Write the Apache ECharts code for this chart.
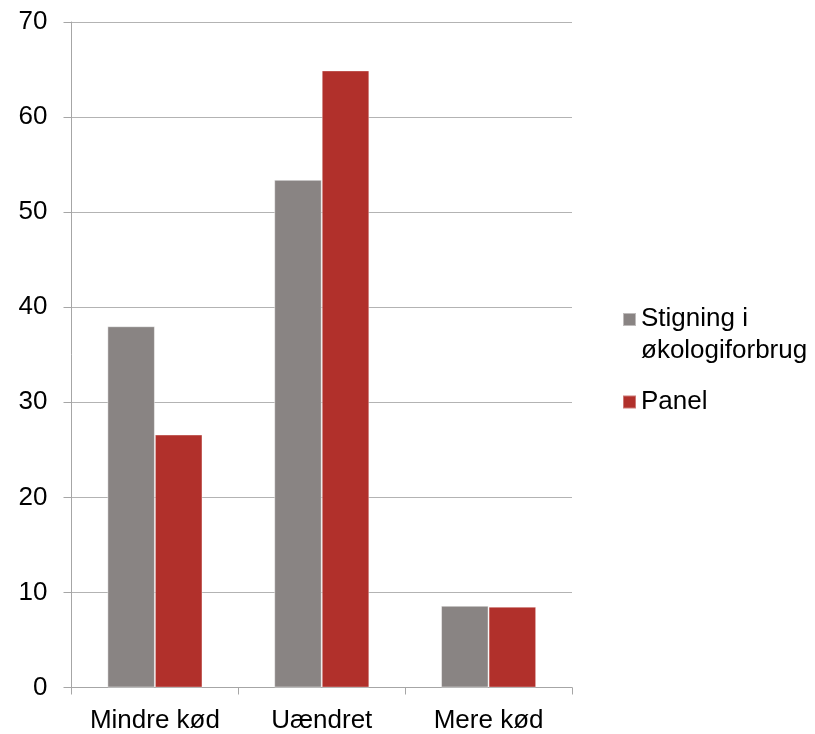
<!DOCTYPE html>
<html>
<head>
<meta charset="utf-8">
<script src="https://cdn.jsdelivr.net/npm/echarts@6/dist/echarts.min.js"></script>
<style>
  html, body { margin: 0; padding: 0; background: #fff; }
  #chart { width: 815px; height: 734px; }
</style>
</head>
<body>
<div id="chart"></div>
<script>
// Kødforbrug: andel (%) fordelt på ændring i forbrug
const categories = ['Mindre kød', 'Uændret', 'Mere kød'];
const stigningValues = [38.0, 53.4, 8.6];
const panelValues = [26.6, 64.9, 8.5];
const seriesNames = ['Stigning i\nøkologiforbrug', 'Panel'];
const yTicks = { min: 0, max: 70, interval: 10 };

const FONT = '"Liberation Sans", Arial, sans-serif';
const axisGray = '#a6a6a6';

// Legend swatches: a 13px square inside a 13x44 box, so the square can sit
// level with the first text line of a two-line entry.
const ICON_TOP = 'path://M0,0h13v13h-13z M0,44';
const ICON_MID = 'path://M0,0 M0,15.5h13v13h-13z M0,44';

const chart = echarts.init(document.getElementById('chart'), null, { renderer: 'canvas' });

chart.setOption({
  animation: false,
  backgroundColor: '#ffffff',
  textStyle: { fontFamily: FONT },
  grid: { left: 71.5, right: 243, top: 22, bottom: 46.5, containLabel: false },
  legend: {
    orient: 'vertical',
    left: 617,
    top: 298,
    itemWidth: 13,
    itemHeight: 44,
    itemGap: 12,
    textStyle: { fontFamily: FONT, fontSize: 26, color: '#000', lineHeight: 32 },
    data: [
      { name: seriesNames[0], icon: ICON_TOP },
      { name: seriesNames[1], icon: ICON_MID }
    ]
  },
  xAxis: {
    type: 'category',
    data: categories,
    axisLine: { lineStyle: { color: axisGray, width: 1 } },
    axisTick: { show: true, alignWithLabel: false, length: 7, lineStyle: { color: axisGray } },
    axisLabel: { fontFamily: FONT, fontSize: 26, color: '#000', margin: 20, interval: 0 },
    splitLine: { show: false }
  },
  yAxis: {
    type: 'value',
    min: yTicks.min,
    max: yTicks.max,
    interval: yTicks.interval,
    axisLine: { show: true, lineStyle: { color: axisGray, width: 1 } },
    axisTick: { show: true, length: 8, lineStyle: { color: axisGray } },
    axisLabel: { fontFamily: FONT, fontSize: 26, color: '#000', margin: 24 },
    splitLine: { show: true, lineStyle: { color: '#b3b3b3', width: 1 } }
  },
  series: [
    {
      name: seriesNames[0],
      type: 'bar',
      data: stigningValues,
      barGap: '0%',
      barCategoryGap: '43%',
      itemStyle: { color: '#898483', borderColor: 'rgba(255,255,255,0.45)', borderWidth: 1 }
    },
    {
      name: seriesNames[1],
      type: 'bar',
      data: panelValues,
      barGap: '0%',
      barCategoryGap: '43%',
      itemStyle: { color: '#b1302b', borderColor: 'rgba(255,255,255,0.35)', borderWidth: 1 }
    }
  ]
});
</script>
</body>
</html>
